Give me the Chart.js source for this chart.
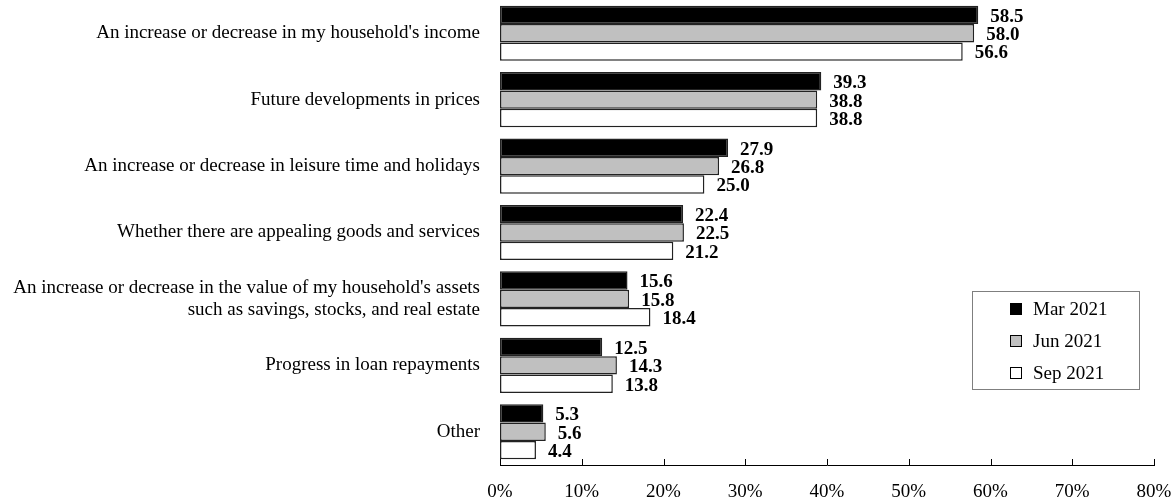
<!DOCTYPE html>
<html>
<head>
<meta charset="utf-8">
<script src="https://cdn.jsdelivr.net/npm/chart.js@4"></script>
<style>
  html, body { margin: 0; padding: 0; background: #fff; }
  #wrap { width: 1171px; height: 500px; position: relative; }
</style>
</head>
<body>
<div id="wrap"><canvas id="chart"></canvas></div>
<script>
// ---- data ----
const categories = [
  "An increase or decrease in my household's income",
  "Future developments in prices",
  "An increase or decrease in leisure time and holidays",
  "Whether there are appealing goods and services",
  ["An increase or decrease in the value of my household's assets", "such as savings, stocks, and real estate"],
  "Progress in loan repayments",
  "Other"
];
const seriesNames = ["Mar 2021", "Jun 2021", "Sep 2021"];
const mar2021 = [58.5, 39.3, 27.9, 22.4, 15.6, 12.5, 5.3];
const jun2021 = [58.0, 38.8, 26.8, 22.5, 15.8, 14.3, 5.6];
const sep2021 = [56.6, 38.8, 25.0, 21.2, 18.4, 13.8, 4.4];
const xTicks = [0, 10, 20, 30, 40, 50, 60, 70, 80];

const FONT = "'Liberation Serif', 'Times New Roman', serif";
const fills = ["#000000", "#c0c0c0", "#ffffff"];

// value labels to the right of each bar
const valueLabels = {
  id: "valueLabels",
  afterDatasetsDraw(chart) {
    const ctx = chart.ctx;
    ctx.save();
    ctx.font = "bold 19px " + FONT;
    ctx.fillStyle = "#000";
    ctx.textBaseline = "middle";
    ctx.textAlign = "left";
    chart.data.datasets.forEach((ds, i) => {
      chart.getDatasetMeta(i).data.forEach((bar, j) => {
        ctx.fillText(ds.data[j].toFixed(1), bar.x + 12, bar.y + 2);
      });
    });
    ctx.restore();
  }
};

// small tick marks pointing up from the x axis
const innerTicks = {
  id: "innerTicks",
  afterDraw(chart) {
    const ctx = chart.ctx;
    const xs = chart.scales.x;
    const y0 = chart.chartArea.bottom;
    ctx.save();
    ctx.strokeStyle = "#000";
    ctx.lineWidth = 1;
    xTicks.forEach(v => {
      const px = Math.round(xs.getPixelForValue(v)) + 0.5;
      ctx.beginPath();
      ctx.moveTo(px, y0);
      ctx.lineTo(px, y0 - 6);
      ctx.stroke();
    });
    ctx.restore();
  }
};

// boxed legend inside the plot
const boxLegend = {
  id: "boxLegend",
  afterDraw(chart) {
    const ctx = chart.ctx;
    const left = 972, top = 291, w = 167, h = 98;
    ctx.save();
    ctx.fillStyle = "#fff";
    ctx.fillRect(left, top, w, h);
    ctx.strokeStyle = "#7f7f7f";
    ctx.lineWidth = 1;
    ctx.strokeRect(left + 0.5, top + 0.5, w, h);
    ctx.font = "19px " + FONT;
    ctx.textBaseline = "middle";
    chart.data.datasets.forEach((ds, i) => {
      const cy = top + 18 + i * 32;
      ctx.fillStyle = ds.backgroundColor;
      ctx.fillRect(left + 38, cy - 6, 12, 12);
      ctx.strokeStyle = "#000";
      ctx.strokeRect(left + 38.5, cy - 5.5, 11, 11);
      ctx.fillStyle = "#000";
      ctx.fillText(ds.label, left + 61, cy + 1);
    });
    ctx.restore();
  }
};

new Chart(document.getElementById("chart"), {
  type: "bar",
  data: {
    labels: categories,
    datasets: [mar2021, jun2021, sep2021].map((vals, i) => ({
      label: seriesNames[i],
      data: vals,
      backgroundColor: fills[i],
      borderColor: "#222",
      borderWidth: 1.5,
      borderSkipped: false,
      barPercentage: 1.0,
      categoryPercentage: 0.83
    }))
  },
  options: {
    indexAxis: "y",
    responsive: true,
    maintainAspectRatio: false,
    animation: false,
    layout: { padding: 0 },
    plugins: {
      legend: { display: false },
      tooltip: { enabled: false }
    },
    scales: {
      x: {
        min: 0,
        max: 80,
        afterBuildTicks: s => { s.ticks = xTicks.map(v => ({ value: v })); },
        afterFit: s => {
          s.height = 35;
          s.paddingLeft = 0;
          s.paddingRight = 17;
        },
        grid: { display: false, drawTicks: false },
        border: { display: true, color: "#000", width: 1 },
        ticks: {
          padding: 16,
          color: "#000",
          maxRotation: 0,
          font: { family: FONT, size: 19 },
          callback: v => v + "%"
        }
      },
      y: {
        afterFit: s => {
          s.width = 500;
          s.paddingTop = 0;
          s.paddingBottom = 0;
        },
        grid: { display: false, drawTicks: false },
        border: { display: false },
        ticks: {
          padding: 20,
          color: "#000",
          font: { family: FONT, size: 19, lineHeight: 1.15 }
        }
      }
    }
  },
  plugins: [valueLabels, innerTicks, boxLegend]
});
</script>
</body>
</html>
